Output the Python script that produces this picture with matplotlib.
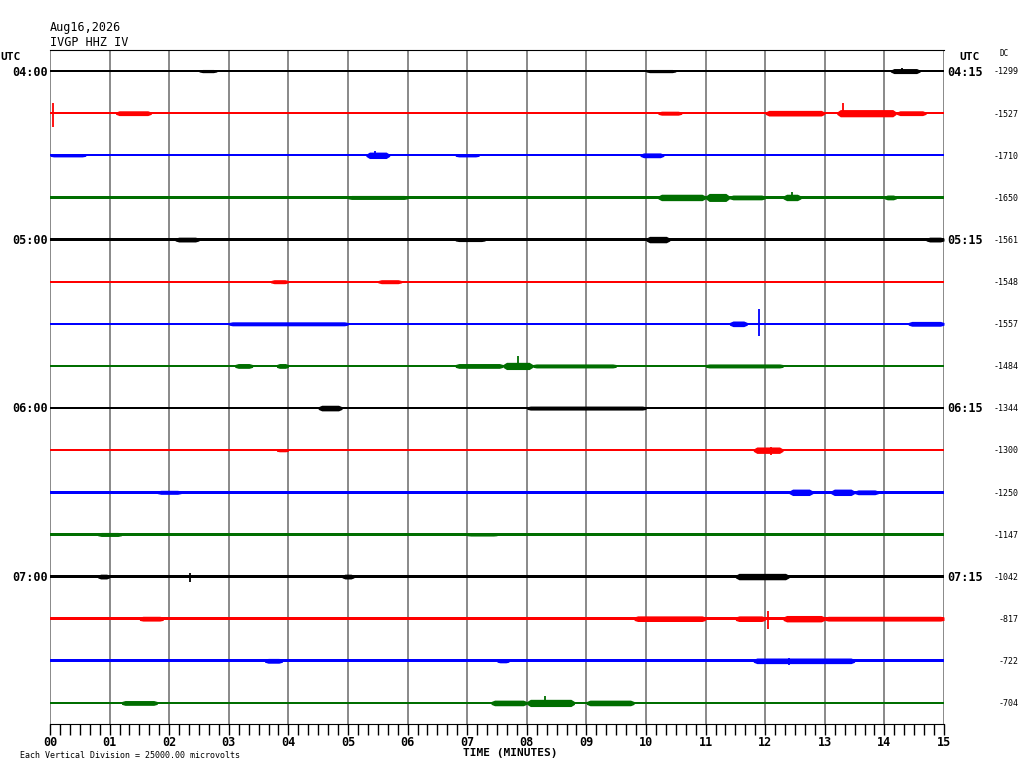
import numpy as np
import matplotlib.pyplot as plt
from matplotlib.ticker import MultipleLocator

# helicorder IVGP HHZ IV, 16 lines of 15 minutes
colors = ["black", "red", "blue", "#006e00"]
left_labels = {0: "04:00", 4: "05:00", 8: "06:00", 12: "07:00"}
right_labels = {0: "04:15", 4: "05:15", 8: "06:15", 12: "07:15"}
dc_values = [-1299, -1527, -1710, -1650, -1561, -1548, -1557, -1484,
             -1344, -1300, -1250, -1147, -1042, -817, -722, -704]

# background noise half-amplitude per line (1/42 of a division)
base_amp = [0.9, 1.1, 1.0, 1.4, 1.4, 1.1, 1.3, 1.4,
            1.3, 1.1, 1.3, 1.3, 1.3, 1.7, 1.4, 1.4]

# bursts of activity: (start min, end min, half-amplitude)
bursts = [
    [(14.1, 14.6, 2.5), (2.5, 2.8, 1.6), (10.0, 10.5, 1.6)],
    [(1.1, 1.7, 2.4), (10.2, 10.6, 2.0), (12.0, 13.0, 2.8), (13.2, 14.2, 3.6), (14.2, 14.7, 2.4)],
    [(0.0, 0.6, 1.6), (5.3, 5.7, 3.2), (9.9, 10.3, 2.4), (6.8, 7.2, 1.6)],
    [(5.0, 6.0, 2.0), (10.2, 11.0, 3.2), (11.0, 11.4, 4.0), (11.4, 12.0, 2.4), (12.3, 12.6, 3.2), (14.0, 14.2, 2.4)],
    [(2.1, 2.5, 2.4), (10.0, 10.4, 3.2), (14.7, 15.0, 2.4), (6.8, 7.3, 2.0)],
    [(3.7, 4.0, 2.0), (5.5, 5.9, 2.0)],
    [(3.0, 5.0, 2.0), (11.4, 11.7, 2.8), (14.4, 15.0, 2.4)],
    [(3.1, 3.4, 2.4), (3.8, 4.0, 2.4), (6.8, 7.6, 2.4), (7.6, 8.1, 3.6), (8.1, 9.5, 2.0), (11.0, 12.3, 2.0)],
    [(4.5, 4.9, 2.8), (8.0, 10.0, 2.0)],
    [(11.8, 12.3, 3.2), (3.8, 4.0, 1.6)],
    [(1.8, 2.2, 2.0), (12.4, 12.8, 3.2), (13.1, 13.5, 3.2), (13.5, 13.9, 2.4)],
    [(0.8, 1.2, 2.0), (7.0, 7.5, 1.6)],
    [(0.8, 1.0, 2.4), (4.9, 5.1, 2.4), (11.5, 12.4, 3.2)],
    [(1.5, 1.9, 2.4), (9.8, 11.0, 2.8), (11.5, 12.0, 2.8), (12.3, 13.0, 3.2), (13.0, 15.0, 2.4)],
    [(3.6, 3.9, 2.4), (11.8, 13.5, 2.8), (7.5, 7.7, 2.0)],
    [(1.2, 1.8, 2.4), (7.4, 8.0, 2.8), (8.0, 8.8, 3.6), (9.0, 9.8, 2.8)],
]

# single spikes: (line, minute, up, down)
spikes = [(1, 0.05, 10, 14), (1, 13.3, 10, 4), (6, 11.9, 15, 12), (7, 7.85, 10, 3),
          (12, 2.35, 4, 5), (13, 12.05, 8, 10), (15, 8.3, 7, 4), (3, 12.45, 5, 2),
          (9, 12.1, 3, 5), (0, 14.3, 3, 2), (2, 5.45, 4, 2), (14, 12.4, 3, 4)]

div = 42.0  # amplitude units per division
mono = "DejaVu Sans Mono"

fig = plt.figure(figsize=(10.24, 7.68), dpi=100)
ax = fig.add_axes([50 / 1024, 44 / 768, 894 / 1024, 674 / 768])
ax.set_xlim(0, 15)
ax.set_ylim(16, 0)

for m in range(16):
    ax.axvline(m, color="#808080", lw=1.3, zorder=1)

for i in range(16):
    c = colors[i % 4]
    y0 = i + 0.5
    b = base_amp[i] / div
    ax.fill_between([0, 15], y0 - b, y0 + b, color=c, lw=0, zorder=2)
    for t0, t1, a in bursts[i]:
        e = min(0.06, (t1 - t0) / 4)
        xs = [t0, t0 + e, t1 - e, t1]
        amps = np.array([base_amp[i], a, a, base_amp[i]]) / div
        ax.fill_between(xs, y0 - amps, y0 + amps, color=c, lw=0, zorder=2)
for i, t, up, dn in spikes:
    ax.vlines(t, i + 0.5 - up / div, i + 0.5 + dn / div, color=colors[i % 4], lw=1.3, zorder=3)

# labels around the drum
for i, lab in left_labels.items():
    fig.text(48 / 1024, 1 - (72 + i * 42.1) / 768, lab, ha="right", va="center",
             family=mono, fontweight="bold", fontsize=8.5)
for i, lab in right_labels.items():
    fig.text(947 / 1024, 1 - (72 + i * 42.1) / 768, lab, ha="left", va="center",
             family=mono, fontweight="bold", fontsize=8.5)
for i, v in enumerate(dc_values):
    fig.text(1019 / 1024, 1 - (72 + i * 42.1) / 768, str(v), ha="right", va="center",
             family=mono, fontsize=6)

fig.text(0, 1 - 57 / 768, "UTC", ha="left", va="center", family=mono, fontweight="bold", fontsize=8)
fig.text(969 / 1024, 1 - 57 / 768, "UTC", ha="center", va="center", family=mono, fontweight="bold", fontsize=8)
fig.text(1004 / 1024, 1 - 54 / 768, "DC", ha="center", va="center", family=mono, fontsize=5.5)
fig.text(50 / 1024, 1 - 27 / 768, "Aug16,2026", ha="left", va="center", family=mono, fontsize=8.5)
fig.text(50 / 1024, 1 - 42 / 768, "IVGP HHZ IV", ha="left", va="center", family=mono, fontsize=8.5)
fig.text(20 / 1024, 1 - 755 / 768, "Each Vertical Division = 25000.00 microvolts",
         ha="left", va="center", family=mono, fontsize=6)
fig.text(510 / 1024, 1 - 753 / 768, "TIME (MINUTES)", ha="center", va="center",
         family=mono, fontweight="bold", fontsize=8)

ax.spines["left"].set_visible(False)
ax.spines["right"].set_visible(False)
ax.spines["top"].set_color("black")
ax.spines["bottom"].set_color("black")
ax.set_yticks([])
ax.xaxis.set_major_locator(MultipleLocator(1))
ax.xaxis.set_minor_locator(MultipleLocator(1 / 6))
ax.tick_params(axis="x", which="both", direction="out", length=8, width=1, color="black")
ax.set_xticks(range(16))
ax.set_xticklabels([f"{m:02d}" for m in range(16)], family=mono, fontweight="bold", fontsize=8.5)
ax.tick_params(axis="x", pad=1)

fig.savefig("out.png", dpi=100)
